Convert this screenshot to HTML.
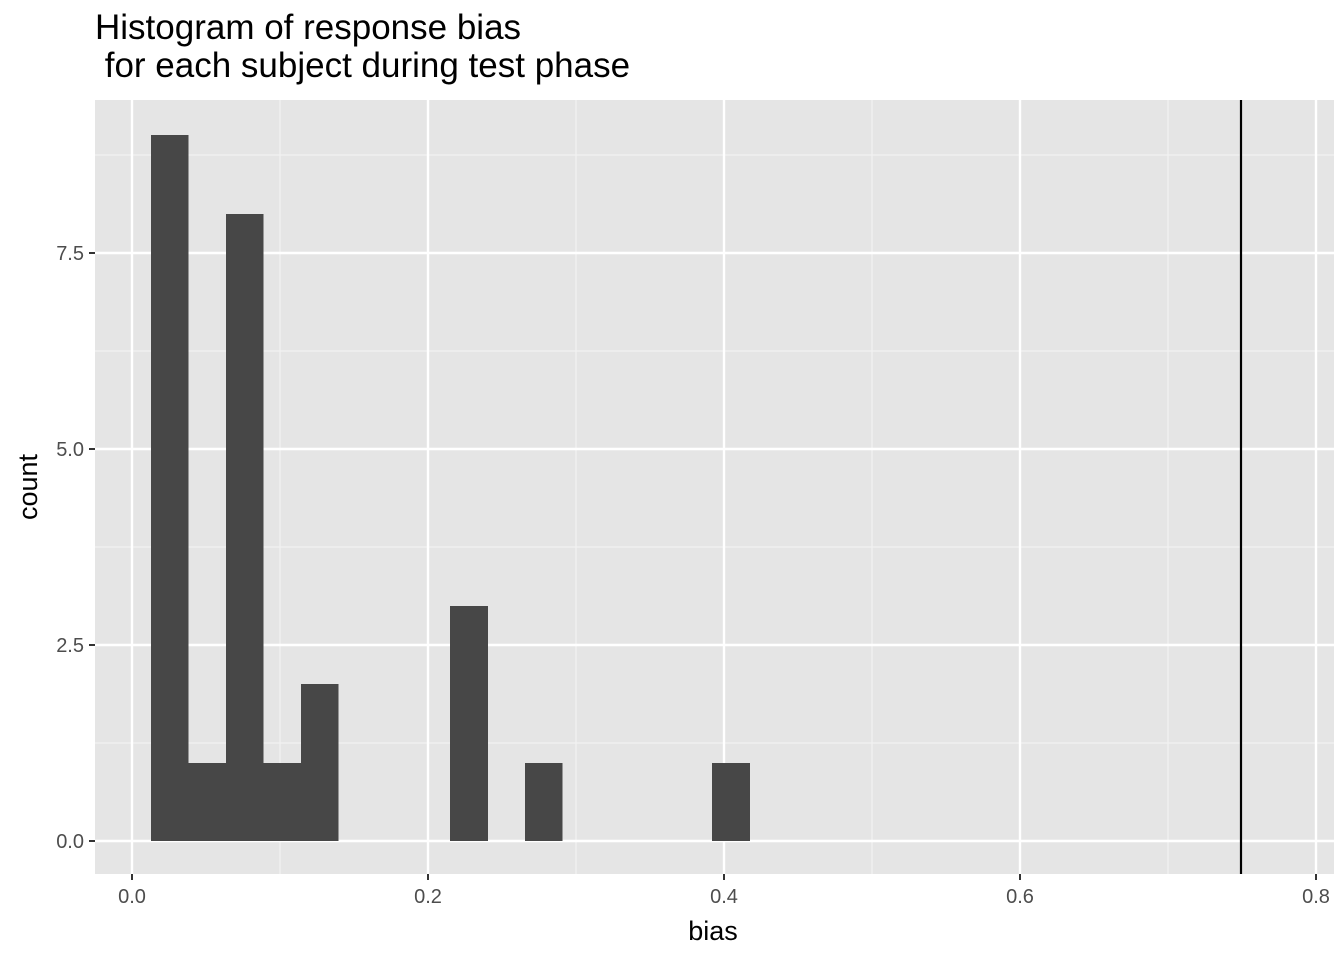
<!DOCTYPE html>
<html><head><style>body{margin:0;background:#fff}</style></head><body>
<svg width="1344" height="960" xmlns="http://www.w3.org/2000/svg" font-family="Liberation Sans, Arial, sans-serif">
<rect width="1344" height="960" fill="#fff"/>
<rect x="95" y="100" width="1239" height="774" fill="#e5e5e5"/>
<g stroke="#f2f2f2" stroke-width="1.2">
<line x1="280" y1="100" x2="280" y2="874"/><line x1="576" y1="100" x2="576" y2="874"/><line x1="872" y1="100" x2="872" y2="874"/><line x1="1168" y1="100" x2="1168" y2="874"/>
<line x1="95" y1="743" x2="1334" y2="743"/><line x1="95" y1="547" x2="1334" y2="547"/><line x1="95" y1="351" x2="1334" y2="351"/><line x1="95" y1="155" x2="1334" y2="155"/>
</g>
<g stroke="#fff" stroke-width="2.4">
<line x1="132" y1="100" x2="132" y2="874"/><line x1="428" y1="100" x2="428" y2="874"/><line x1="724" y1="100" x2="724" y2="874"/><line x1="1020" y1="100" x2="1020" y2="874"/><line x1="1316" y1="100" x2="1316" y2="874"/>
<line x1="95" y1="841" x2="1334" y2="841"/><line x1="95" y1="645" x2="1334" y2="645"/><line x1="95" y1="449" x2="1334" y2="449"/><line x1="95" y1="253" x2="1334" y2="253"/>
</g>
<g fill="#474747">
<rect x="151" y="135" width="37.5" height="706"/>
<rect x="188" y="763" width="38" height="78"/>
<rect x="226" y="214" width="37.5" height="627"/>
<rect x="263" y="763" width="38" height="78"/>
<rect x="301" y="684" width="37.5" height="157"/>
<rect x="450" y="606" width="38" height="235"/>
<rect x="525" y="763" width="37.5" height="78"/>
<rect x="712" y="763" width="38" height="78"/>
</g>
<line x1="1241" y1="100" x2="1241" y2="874" stroke="#000" stroke-width="2.2"/>
<g stroke="#333" stroke-width="2">
<line x1="89" y1="841" x2="95" y2="841"/><line x1="89" y1="645" x2="95" y2="645"/><line x1="89" y1="449" x2="95" y2="449"/><line x1="89" y1="253" x2="95" y2="253"/>
<line x1="132" y1="874" x2="132" y2="880"/><line x1="428" y1="874" x2="428" y2="880"/><line x1="724" y1="874" x2="724" y2="880"/><line x1="1020" y1="874" x2="1020" y2="880"/><line x1="1316" y1="874" x2="1316" y2="880"/>
</g>
<g fill="#4d4d4d" font-size="20" text-anchor="end">
<text x="84" y="848">0.0</text><text x="84" y="652">2.5</text><text x="84" y="456">5.0</text><text x="84" y="260">7.5</text>
</g>
<g fill="#4d4d4d" font-size="20" text-anchor="middle">
<text x="132" y="903">0.0</text><text x="428" y="903">0.2</text><text x="724" y="903">0.4</text><text x="1020" y="903">0.6</text><text x="1316" y="903">0.8</text>
</g>
<text x="713" y="940" font-size="27" text-anchor="middle">bias</text>
<text transform="translate(37,487) rotate(-90)" font-size="27" text-anchor="middle">count</text>
<text x="95" y="39" font-size="35">Histogram of response bias</text>
<text x="95" y="77" font-size="35" xml:space="preserve">&#160;for each subject during test phase</text>
</svg>
</body></html>
